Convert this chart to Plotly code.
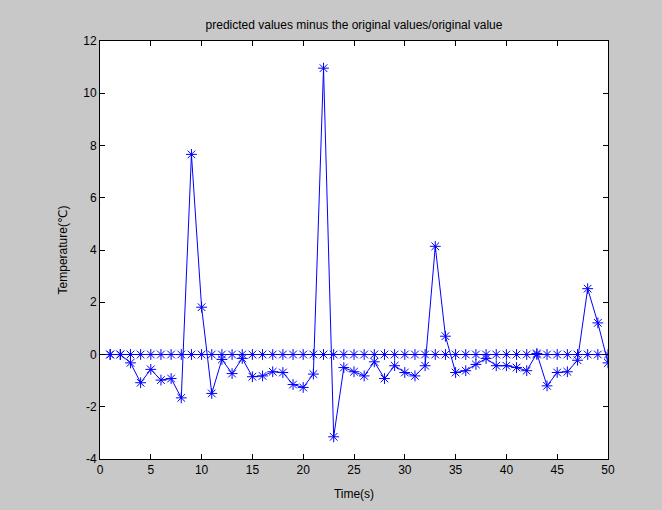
import plotly.graph_objects as go

time_s = list(range(1, 51))
zero_vals = [0] * 50
diff_vals = [0, 0, -0.32, -1.08, -0.57, -0.98, -0.92, -1.66, 7.66, 1.81,
             -1.49, -0.19, -0.73, -0.15, -0.85, -0.82, -0.66, -0.69, -1.15, -1.26,
             -0.75, 10.96, -3.15, -0.5, -0.66, -0.82, -0.28, -0.92, -0.43, -0.69,
             -0.82, -0.43, 4.14, 0.7, -0.69, -0.62, -0.38, -0.15, -0.43, -0.43,
             -0.5, -0.62, 0.04, -1.2, -0.69, -0.66, -0.22, 2.52, 1.21, -0.32]
x_ticks = list(range(0, 51, 5))
y_ticks = list(range(-4, 13, 2))

blue = "#0000ff"
marker = dict(symbol="asterisk-open", size=9, line=dict(color=blue, width=1), color=blue)

fig = go.Figure()
fig.add_trace(go.Scatter(x=time_s, y=zero_vals, mode="lines+markers",
                         line=dict(color=blue, width=1), marker=marker, showlegend=False))
fig.add_trace(go.Scatter(x=time_s, y=diff_vals, mode="lines+markers",
                         line=dict(color=blue, width=1), marker=marker, showlegend=False))

axis_common = dict(showline=True, linecolor="black", linewidth=1, mirror="ticks",
                   ticks="inside", ticklen=5, tickcolor="black", showgrid=False,
                   zeroline=False, tickfont=dict(size=12, color="black"))

fig.update_layout(
    width=662, height=510,
    paper_bgcolor="#c8c8c8", plot_bgcolor="white",
    margin=dict(l=92, r=62, t=33, b=59),
    font=dict(family="Liberation Sans, Arial, DejaVu Sans", size=12, color="black"),
    title=dict(text="predicted values minus the original values/original value",
               x=(92 + 600) / 2 / 662, xanchor="center", y=1 - 17 / 510, yanchor="middle",
               font=dict(size=12)),
    xaxis=dict(range=[0, 50], tickvals=x_ticks, ticktext=[str(v) for v in x_ticks],
               title=dict(text="Time(s)", standoff=13, font=dict(size=12)), **axis_common),
    yaxis=dict(range=[-4, 12], tickvals=y_ticks, ticktext=[str(v) for v in y_ticks],
               title=dict(text="Temperature(℃)", standoff=13, font=dict(size=12)), **axis_common),
)

fig.write_html("out.html",
               post_script="document.body.style.background='#c8c8c8';"
                           "document.documentElement.style.background='#c8c8c8';")
